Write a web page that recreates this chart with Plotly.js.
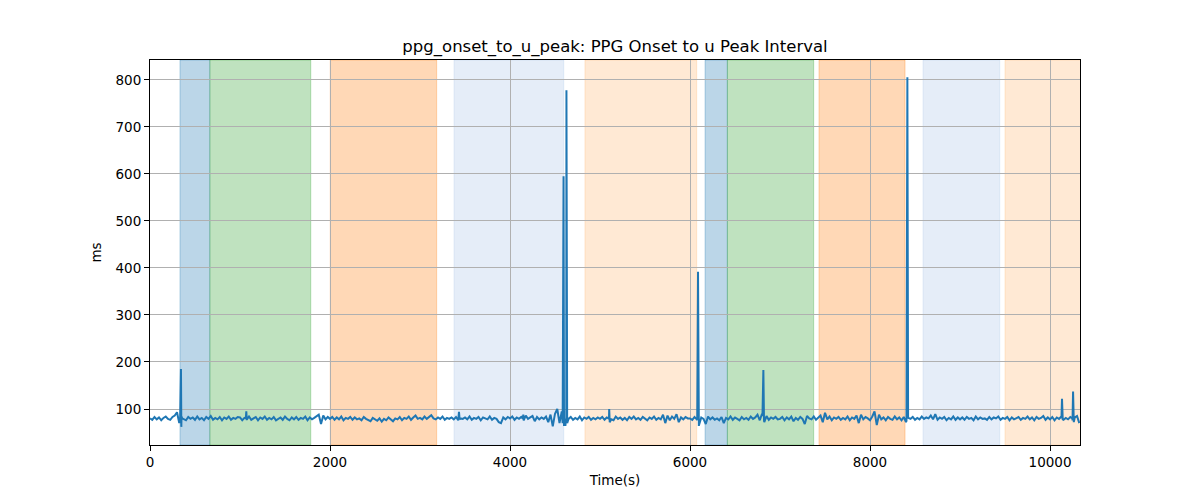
<!DOCTYPE html>
<html>
<head>
<meta charset="utf-8">
<script src="https://cdn.plot.ly/plotly-3.0.1.min.js"></script>
<style>html,body{margin:0;padding:0;background:#fff}</style>
</head>
<body>
<div id="chart" style="width:1200px;height:500px"></div>
<script>
// Baseline samples, one every 25 s starting at 0 s (one row per 1000 s)
const sampleInterval = 25;
const baseValues = [
  80,77,83,78,82,76,81,84,79,77,83,86,93,70,84,78,76,83,79,82,77,84,78,81,76,83,79,85,77,81,78,83,76,82,79,84,77,81,79,83,
  82,76,81,78,84,77,80,83,76,82,79,84,77,81,78,83,76,80,82,77,84,79,76,82,78,83,77,81,79,84,76,82,78,81,85,88,68,86,78,83,
  79,83,77,82,78,84,76,81,79,83,77,82,78,80,76,83,79,77,74,81,78,75,80,73,79,76,82,77,74,80,78,83,76,81,79,84,77,82,86,79,
  81,78,84,79,83,87,80,78,82,79,84,77,81,79,82,78,83,76,80,79,82,78,84,77,81,79,83,76,82,80,78,84,77,81,79,72,70,82,78,83,
  80,84,77,82,79,83,76,86,79,82,85,74,83,78,82,79,84,72,88,63,90,100,70,95,64,82,79,83,77,81,78,84,76,82,79,83,77,81,78,82,
  79,83,77,82,80,78,76,84,79,82,77,81,76,83,79,84,78,81,77,83,80,76,82,79,84,77,81,78,88,70,86,76,84,79,89,72,82,78,83,80,
  80,77,83,78,66,82,79,68,84,78,82,77,80,76,83,70,81,78,84,77,82,79,76,83,78,81,77,84,79,82,88,76,90,72,85,77,82,79,83,78,
  79,83,76,82,78,84,74,81,77,83,79,68,85,80,78,84,77,82,86,72,92,78,84,76,82,79,83,77,81,78,84,76,82,79,86,70,88,78,83,80,
  76,84,95,66,88,78,82,76,83,79,77,84,78,82,76,83,72,81,79,83,77,81,78,84,79,82,80,86,78,89,77,82,79,83,76,81,78,84,77,82,
  78,82,77,83,79,81,76,84,78,82,79,80,77,83,78,82,80,84,77,81,79,83,76,82,78,80,83,77,81,79,84,78,82,76,83,79,81,85,77,82,
  78,83,76,82,79,84,77,81,78,83,76,82,85,70
];
// Isolated spikes (time in s, value in ms)
const spikeTimes = [
  335,344,348,358,
  1065,1070,1078,
  3427,3433,3440,
  4140,4148,4155,
  4585,4595,4605,4615,4627,4635,
  5095,5102,5108,
  6080,6089,6098,
  6805,6815,6822,
  8405,8415,8423,
  10127,10133,10141,
  10248,10256,10264
];
const spikeValues = [
  82,185,62,80,
  80,95,78,
  80,94,78,
  80,88,77,
  70,595,75,64,778,70,
  80,100,72,
  80,392,66,
  85,183,76,
  75,806,80,
  80,122,78,
  80,137,72
];
// Shaded segments: [start, end, colour]
const segStart = [333, 665, 2003, 3378, 4833, 6167, 6415, 7433, 8589, 9500];
const segEnd   = [665, 1786, 3185, 4597, 6074, 6415, 7374, 8389, 9441, 10400];
const segColor = [
  'rgba(31,119,180,0.3)', 'rgba(44,160,44,0.3)', 'rgba(255,127,14,0.3)',
  'rgba(174,199,232,0.32)', 'rgba(255,187,120,0.32)',
  'rgba(31,119,180,0.3)', 'rgba(44,160,44,0.3)', 'rgba(255,127,14,0.3)',
  'rgba(174,199,232,0.32)', 'rgba(255,187,120,0.32)'
];
const xTicks = [0, 2000, 4000, 6000, 8000, 10000];
const yTicks = [100, 200, 300, 400, 500, 600, 700, 800];

const pts = [];
baseValues.forEach((v, i) => pts.push([i * sampleInterval, v]));
spikeTimes.forEach((t, i) => pts.push([t, spikeValues[i]]));
pts.sort((a, b) => a[0] - b[0]);

const trace = {
  x: pts.map(p => p[0]),
  y: pts.map(p => p[1]),
  type: 'scatter',
  mode: 'lines',
  line: {color: '#1f77b4', width: 2},
  hoverinfo: 'x+y'
};

const shapes = segStart.map((s, i) => ({
  type: 'rect', xref: 'x', yref: 'paper',
  x0: s, x1: segEnd[i], y0: 0, y1: 1,
  fillcolor: segColor[i], line: {width: 1, color: segColor[i]},
  layer: 'below'
}));

const font = {family: 'DejaVu Sans, sans-serif', color: '#000'};
const layout = {
  width: 1200, height: 500,
  margin: {l: 150, r: 120, t: 60, b: 55},
  paper_bgcolor: '#fff', plot_bgcolor: 'rgba(0,0,0,0)',
  showlegend: false,
  title: {text: 'ppg_onset_to_u_peak: PPG Onset to u Peak Interval',
          font: Object.assign({size: 16.5}, font),
          xref: 'paper', x: 0.5, xanchor: 'center', yref: 'container', y: 0.908, yanchor: 'middle'},
  xaxis: {
    range: [0, 10333], tickvals: xTicks, ticktext: xTicks.map(String),
    showgrid: true, gridcolor: '#b0b0b0', gridwidth: 1,
    showline: true, linecolor: '#000', linewidth: 1, mirror: true,
    ticks: 'outside', ticklen: 5, tickcolor: '#000', tickwidth: 1,
    tickfont: Object.assign({size: 13.5}, font), zeroline: false,
    title: {text: 'Time(s)', font: Object.assign({size: 13.5}, font), standoff: 6}
  },
  yaxis: {
    range: [23.4, 842.5], tickvals: yTicks, ticktext: yTicks.map(String),
    showgrid: true, gridcolor: '#b0b0b0', gridwidth: 1,
    showline: true, linecolor: '#000', linewidth: 1, mirror: true,
    ticks: 'outside', ticklen: 5, tickcolor: '#000', tickwidth: 1,
    tickfont: Object.assign({size: 13.5}, font), zeroline: false,
    title: {text: 'ms', font: Object.assign({size: 13.5}, font), standoff: 10}
  },
  shapes: shapes
};

Plotly.newPlot('chart', [trace], layout, {displayModeBar: false, staticPlot: true});
</script>
</body>
</html>
